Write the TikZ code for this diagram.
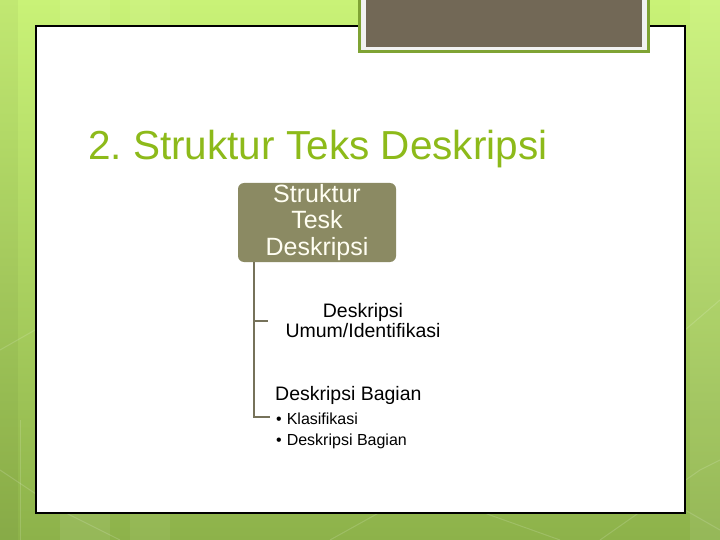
\documentclass[tikz,border=0pt]{standalone}
\usepackage{fontspec}
\setmainfont{Liberation Sans}
\frenchspacing
\definecolor{bgtop}{HTML}{C9F277}
\definecolor{bgbot}{HTML}{8DB24A}
\definecolor{titlegreen}{HTML}{8DBA1A}
\definecolor{olivebox}{HTML}{8B8A63}
\definecolor{connc}{HTML}{76725A}
\definecolor{brownbox}{HTML}{726856}
\definecolor{framegreen}{HTML}{7FA334}
\tikzset{
  conn/.style={draw=connc, line width=2pt},
  rootbox/.style={fill=olivebox, rounded corners=6pt, minimum width=158pt, minimum height=79pt, align=center, text=white!95!yellow, font=\fontsize{25}{26.5}\selectfont, inner sep=0pt},
  childtext/.style={align=center, font=\fontsize{19.5}{20}\selectfont, inner sep=0pt},
  bullettext/.style={align=left, font=\fontsize{16}{21}\selectfont, inner sep=0pt},
  faint/.style={draw=white, opacity=0.15, line width=1pt}
}
\begin{document}
\begin{tikzpicture}[x=1pt,y=-1pt]
\useasboundingbox (0,0) rectangle (720,540);
% background
\shade[top color=bgtop, bottom color=bgbot] (0,0) rectangle (720,540);
\fill[white, opacity=0.08] (60,0) rectangle (110,540);
\fill[white, opacity=0.06] (130,0) rectangle (170,540);
\fill[white, opacity=0.08] (690,0) rectangle (720,540);
\fill[black, opacity=0.04] (0,0) rectangle (18,540);
\draw[faint] (0,470) -- (60,510) -- (120,540);
\draw[faint] (20,420) -- (20,540);
\draw[faint] (330,540) -- (420,490);
\draw[faint] (420,490) -- (560,540);
\draw[faint] (600,540) -- (700,470) -- (720,460);
\draw[faint] (650,490) -- (720,530);
\draw[faint] (0,350) -- (35,330);
\draw[faint] (685,330) -- (720,300);
% main panel
\draw[fill=white, line width=1.3pt] (36,26) rectangle (685,513);
% top brown box
\fill[framegreen] (358,-2) rectangle (650,53);
\fill[white!95!black] (361,-2) rectangle (647,50);
\fill[brownbox] (366,-2) rectangle (642,47);
% title
\node[anchor=base west, inner sep=0pt, text=titlegreen, font=\fontsize{40.5}{44}\selectfont] (title) at (88,160) {2. Struktur Teks Deskripsi};
% hierarchy
\node[rootbox] (root) at (317,222.5) {Struktur\\Tesk\\Deskripsi};
\node[childtext] (c1) at (363,321) {Deskripsi\\Umum/Identifikasi};
\node[anchor=base west, inner sep=0pt, font=\fontsize{19.5}{20}\selectfont] (c2) at (275,400) {Deskripsi Bagian};
\node[bullettext, anchor=north west] (c2list) at (276,413) {\textbullet\hspace{5pt}Klasifikasi\\\textbullet\hspace{5pt}Deskripsi Bagian};
\coordinate (trunk) at (254,262);
\coordinate (tick1) at (268,321);
\coordinate (tick2) at (270,416.5);
\draw[conn] (trunk) |- (tick1);
\draw[conn] (trunk) |- (tick2);
\end{tikzpicture}
\end{document}
